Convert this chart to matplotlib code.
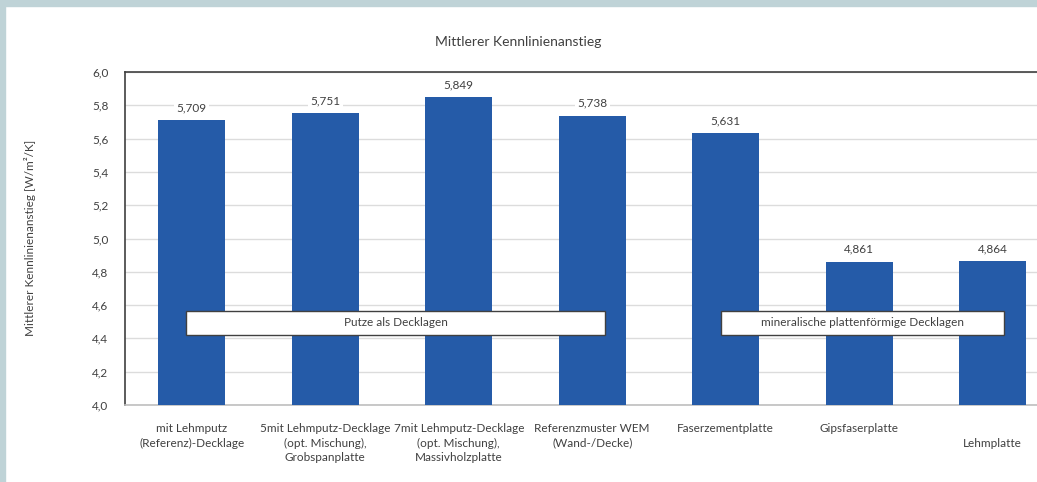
import matplotlib
matplotlib.use("Agg")
import matplotlib.pyplot as plt
from matplotlib.patches import Rectangle

plt.rcParams['font.family'] = ['Lato', 'DejaVu Sans']

categories = [
    "mit Lehmputz\n(Referenz)-Decklage",
    "5mit Lehmputz-Decklage\n(opt. Mischung),\nGrobspanplatte",
    "7mit Lehmputz-Decklage\n(opt. Mischung),\nMassivholzplatte",
    "Referenzmuster WEM\n(Wand-/Decke)",
    "Faserzementplatte",
    "Gipsfaserplatte",
    "\nLehmplatte",
]
values = [5.709, 5.751, 5.849, 5.738, 5.631, 4.861, 4.864]
yticks = [4.0, 4.2, 4.4, 4.6, 4.8, 5.0, 5.2, 5.4, 5.6, 5.8, 6.0]
title = "Mittlerer Kennlinienanstieg"
ylabel = "Mittlerer Kennlinienanstieg [W/m²/K]"
group_labels = ["Putze als Decklagen", "mineralische plattenförmige Decklagen"]

text_c = "#404040"
bar_c = "#255ba8"

fig = plt.figure(figsize=(10.37, 4.82), dpi=100)
# border band
fig.patches.append(Rectangle((0, 0), 5/1037, 1, transform=fig.transFigure, color="#bfd3d7", zorder=0))
fig.patches.append(Rectangle((0, 1-6/482), 1, 6/482, transform=fig.transFigure, color="#bfd3d7", zorder=0))

ax = fig.add_axes([125/1037, 1-405/482, 934.5/1037, 333/482])
x = list(range(len(categories)))
ax.bar(x, values, width=0.5, color=bar_c, zorder=3)
ax.set_xlim(-0.5, 6.5)
ax.set_ylim(4.0, 6.0)
ax.set_yticks(yticks)
ax.set_yticklabels([f"{v:.1f}".replace(".", ",") for v in yticks], fontsize=8.5, color=text_c)
ax.set_xticks(x)
ax.set_xticklabels(categories, fontsize=8.5, color=text_c, va="top", linespacing=1.4)
ax.tick_params(axis="both", length=0)
ax.tick_params(axis="x", pad=13)
ax.tick_params(axis="y", pad=12)
ax.grid(axis="y", color="#dcdcdc", lw=1, zorder=0)
ax.set_axisbelow(True)
for s in ["left", "top"]:
    ax.spines[s].set_color("#404040")
    ax.spines[s].set_linewidth(1.2)
ax.spines["bottom"].set_color("#bfbfbf")
ax.spines["bottom"].set_linewidth(1.2)
ax.spines["right"].set_visible(False)

for xi, v in zip(x, values):
    ax.annotate(f"{v:.3f}".replace(".", ","), (xi, v), xytext=(0, 5), textcoords="offset points",
                ha="center", va="bottom", fontsize=8.5, color=text_c, zorder=4,
                bbox=dict(boxstyle="square,pad=0.2", fc="white", ec="none"))

# group boxes
boxes = [(-0.043, 3.095), (3.964, 6.084)]
for (x0, x1), lab in zip(boxes, group_labels):
    ax.add_patch(Rectangle((x0, 4.42), x1 - x0, 0.145, facecolor="white", edgecolor="#404040",
                           lw=1.0, zorder=5))
    ax.text((x0 + x1) / 2, 4.4925, lab, ha="center", va="center", fontsize=8.5, color=text_c, zorder=6)

fig.text(0.5, 1-42/482, title, ha="center", va="center", fontsize=10, color=text_c)
fig.text(30/1037, 1-238/482, ylabel, rotation=90, ha="center", va="center", fontsize=8.5, color=text_c)

fig.savefig("out.png", dpi=100)
